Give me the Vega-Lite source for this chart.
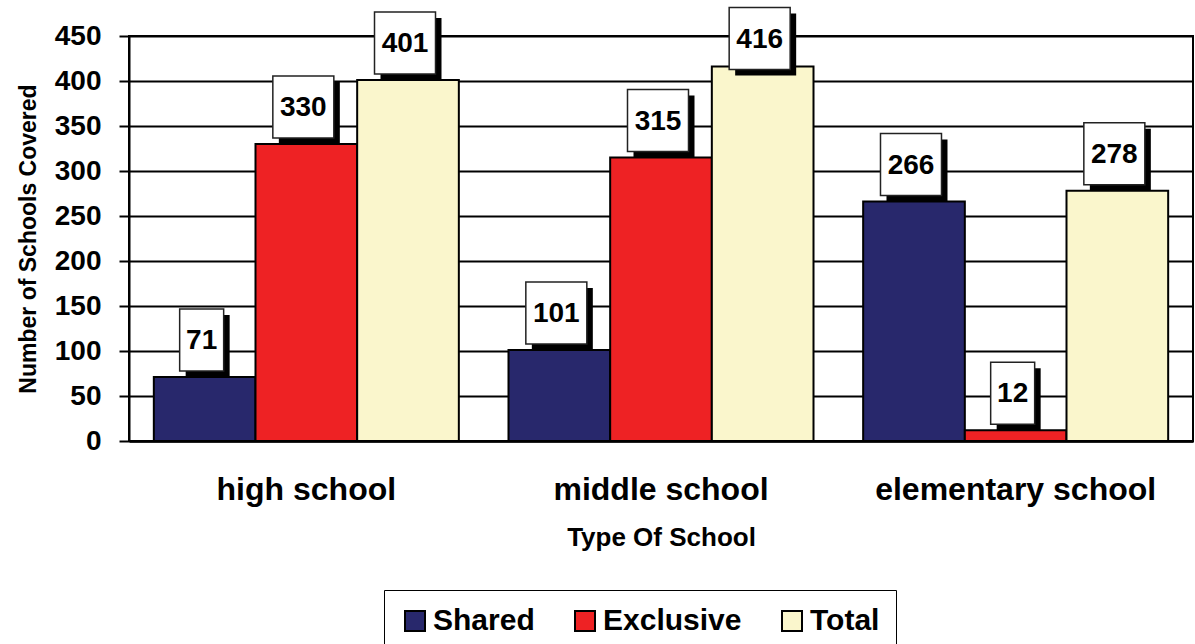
{
  "$schema": "https://vega.github.io/schema/vega-lite/v6.json",
  "width": 1064,
  "height": 405,
  "autosize": {"type": "none"},
  "padding": {"left": 129, "top": 36, "right": 2, "bottom": 203},
  "background": "white",
  "config": {
    "font": "Liberation Sans",
    "view": {"stroke": "black", "strokeWidth": 2}
  },
  "data": {
    "values": [
      {"school": "high school", "series": "Shared", "value": 71},
      {"school": "high school", "series": "Exclusive", "value": 330},
      {"school": "high school", "series": "Total", "value": 401},
      {"school": "middle school", "series": "Shared", "value": 101},
      {"school": "middle school", "series": "Exclusive", "value": 315},
      {"school": "middle school", "series": "Total", "value": 416},
      {"school": "elementary school", "series": "Shared", "value": 266},
      {"school": "elementary school", "series": "Exclusive", "value": 12},
      {"school": "elementary school", "series": "Total", "value": 278}
    ]
  },
  "transform": [
    {"calculate": "min(datum.value, 406)", "as": "labelpos"}
  ],
  "encoding": {
    "x": {
      "field": "school",
      "type": "nominal",
      "sort": ["high school", "middle school", "elementary school"],
      "scale": {"paddingInner": 0.14, "paddingOuter": 0.07},
      "axis": {
        "title": "Type Of School",
        "titleFont": "Liberation Sans",
        "titleFontSize": 26,
        "titleFontWeight": "bold",
        "titleColor": "black",
        "titlePadding": 19,
        "labelFont": "Liberation Sans",
        "labelFontSize": 32,
        "labelFontWeight": "bold",
        "labelColor": "black",
        "labelPadding": 33,
        "labelLimit": 500,
        "labelAngle": 0,
        "ticks": false,
        "domain": true,
        "domainColor": "black",
        "domainWidth": 2.5
      }
    },
    "xOffset": {
      "field": "series",
      "type": "nominal",
      "sort": ["Shared", "Exclusive", "Total"],
      "scale": {"paddingInner": 0, "paddingOuter": 0}
    }
  },
  "layer": [
    {
      "mark": {"type": "bar", "stroke": "black", "strokeWidth": 2},
      "encoding": {
        "y": {
          "field": "value",
          "type": "quantitative",
          "scale": {"domain": [0, 450], "nice": false},
          "axis": {
            "title": "Number of Schools Covered",
            "titleFont": "Liberation Sans",
            "titleFontSize": 23,
            "titleFontWeight": "bold",
            "titleColor": "black",
            "titlePadding": 14,
            "values": [0, 50, 100, 150, 200, 250, 300, 350, 400, 450],
            "labelFont": "Liberation Sans",
            "labelFontSize": 28,
            "labelFontWeight": "bold",
            "labelColor": "black",
            "labelPadding": 18,
            "tickSize": 10,
            "tickColor": "black",
            "tickWidth": 2,
            "domainColor": "black",
            "domainWidth": 2,
            "grid": true,
            "gridColor": "black",
            "gridWidth": 1.8,
            "gridOpacity": 1
          }
        },
        "color": {
          "field": "series",
          "type": "nominal",
          "sort": ["Shared", "Exclusive", "Total"],
          "scale": {
            "domain": ["Shared", "Exclusive", "Total"],
            "range": ["#28286c", "#ee2224", "#faf6cc"]
          },
          "legend": {
            "title": null,
            "orient": "none",
            "legendX": 255,
            "legendY": 554,
            "direction": "horizontal",
            "strokeColor": "black",
            "fillColor": "white",
            "padding": 16,
            "symbolType": "square",
            "symbolSize": 400,
            "symbolStrokeColor": "black",
            "symbolStrokeWidth": 2,
            "symbolOpacity": 1,
            "labelFont": "Liberation Sans",
            "labelFontSize": 30,
            "labelFontWeight": "bold",
            "labelColor": "black",
            "labelOffset": 3,
            "columnPadding": 35,
            "labelLimit": 300
          }
        }
      }
    },
    {
      "transform": [{"filter": "datum.value < 100"}],
      "mark": {"type": "point", "filled": true, "fill": "black", "strokeWidth": 0, "opacity": 1, "size": 4, "shape": "M-19,-62L25,-62L25,0L-19,0Z"},
      "encoding": {"y": {"field": "labelpos", "type": "quantitative"}}
    },
    {
      "transform": [{"filter": "datum.value >= 100"}],
      "mark": {"type": "point", "filled": true, "fill": "black", "strokeWidth": 0, "opacity": 1, "size": 4, "shape": "M-27.5,-62L33.5,-62L33.5,0L-27.5,0Z"},
      "encoding": {"y": {"field": "labelpos", "type": "quantitative"}}
    },
    {
      "transform": [{"filter": "datum.value < 100"}],
      "mark": {"type": "point", "filled": true, "fill": "white", "stroke": "#222222", "strokeWidth": 1.5, "opacity": 1, "size": 4, "shape": "M-25,-68L19,-68L19,-6L-25,-6Z"},
      "encoding": {"y": {"field": "labelpos", "type": "quantitative"}}
    },
    {
      "transform": [{"filter": "datum.value >= 100"}],
      "mark": {"type": "point", "filled": true, "fill": "white", "stroke": "#222222", "strokeWidth": 1.5, "opacity": 1, "size": 4, "shape": "M-33.5,-68L27.5,-68L27.5,-6L-33.5,-6Z"},
      "encoding": {"y": {"field": "labelpos", "type": "quantitative"}}
    },
    {
      "mark": {"type": "text", "font": "Liberation Sans", "fontSize": 28, "fontWeight": "bold", "color": "black", "baseline": "middle", "align": "center", "dx": -3, "dy": -36},
      "encoding": {
        "y": {"field": "labelpos", "type": "quantitative"},
        "text": {"field": "value", "type": "quantitative"}
      }
    }
  ]
}
